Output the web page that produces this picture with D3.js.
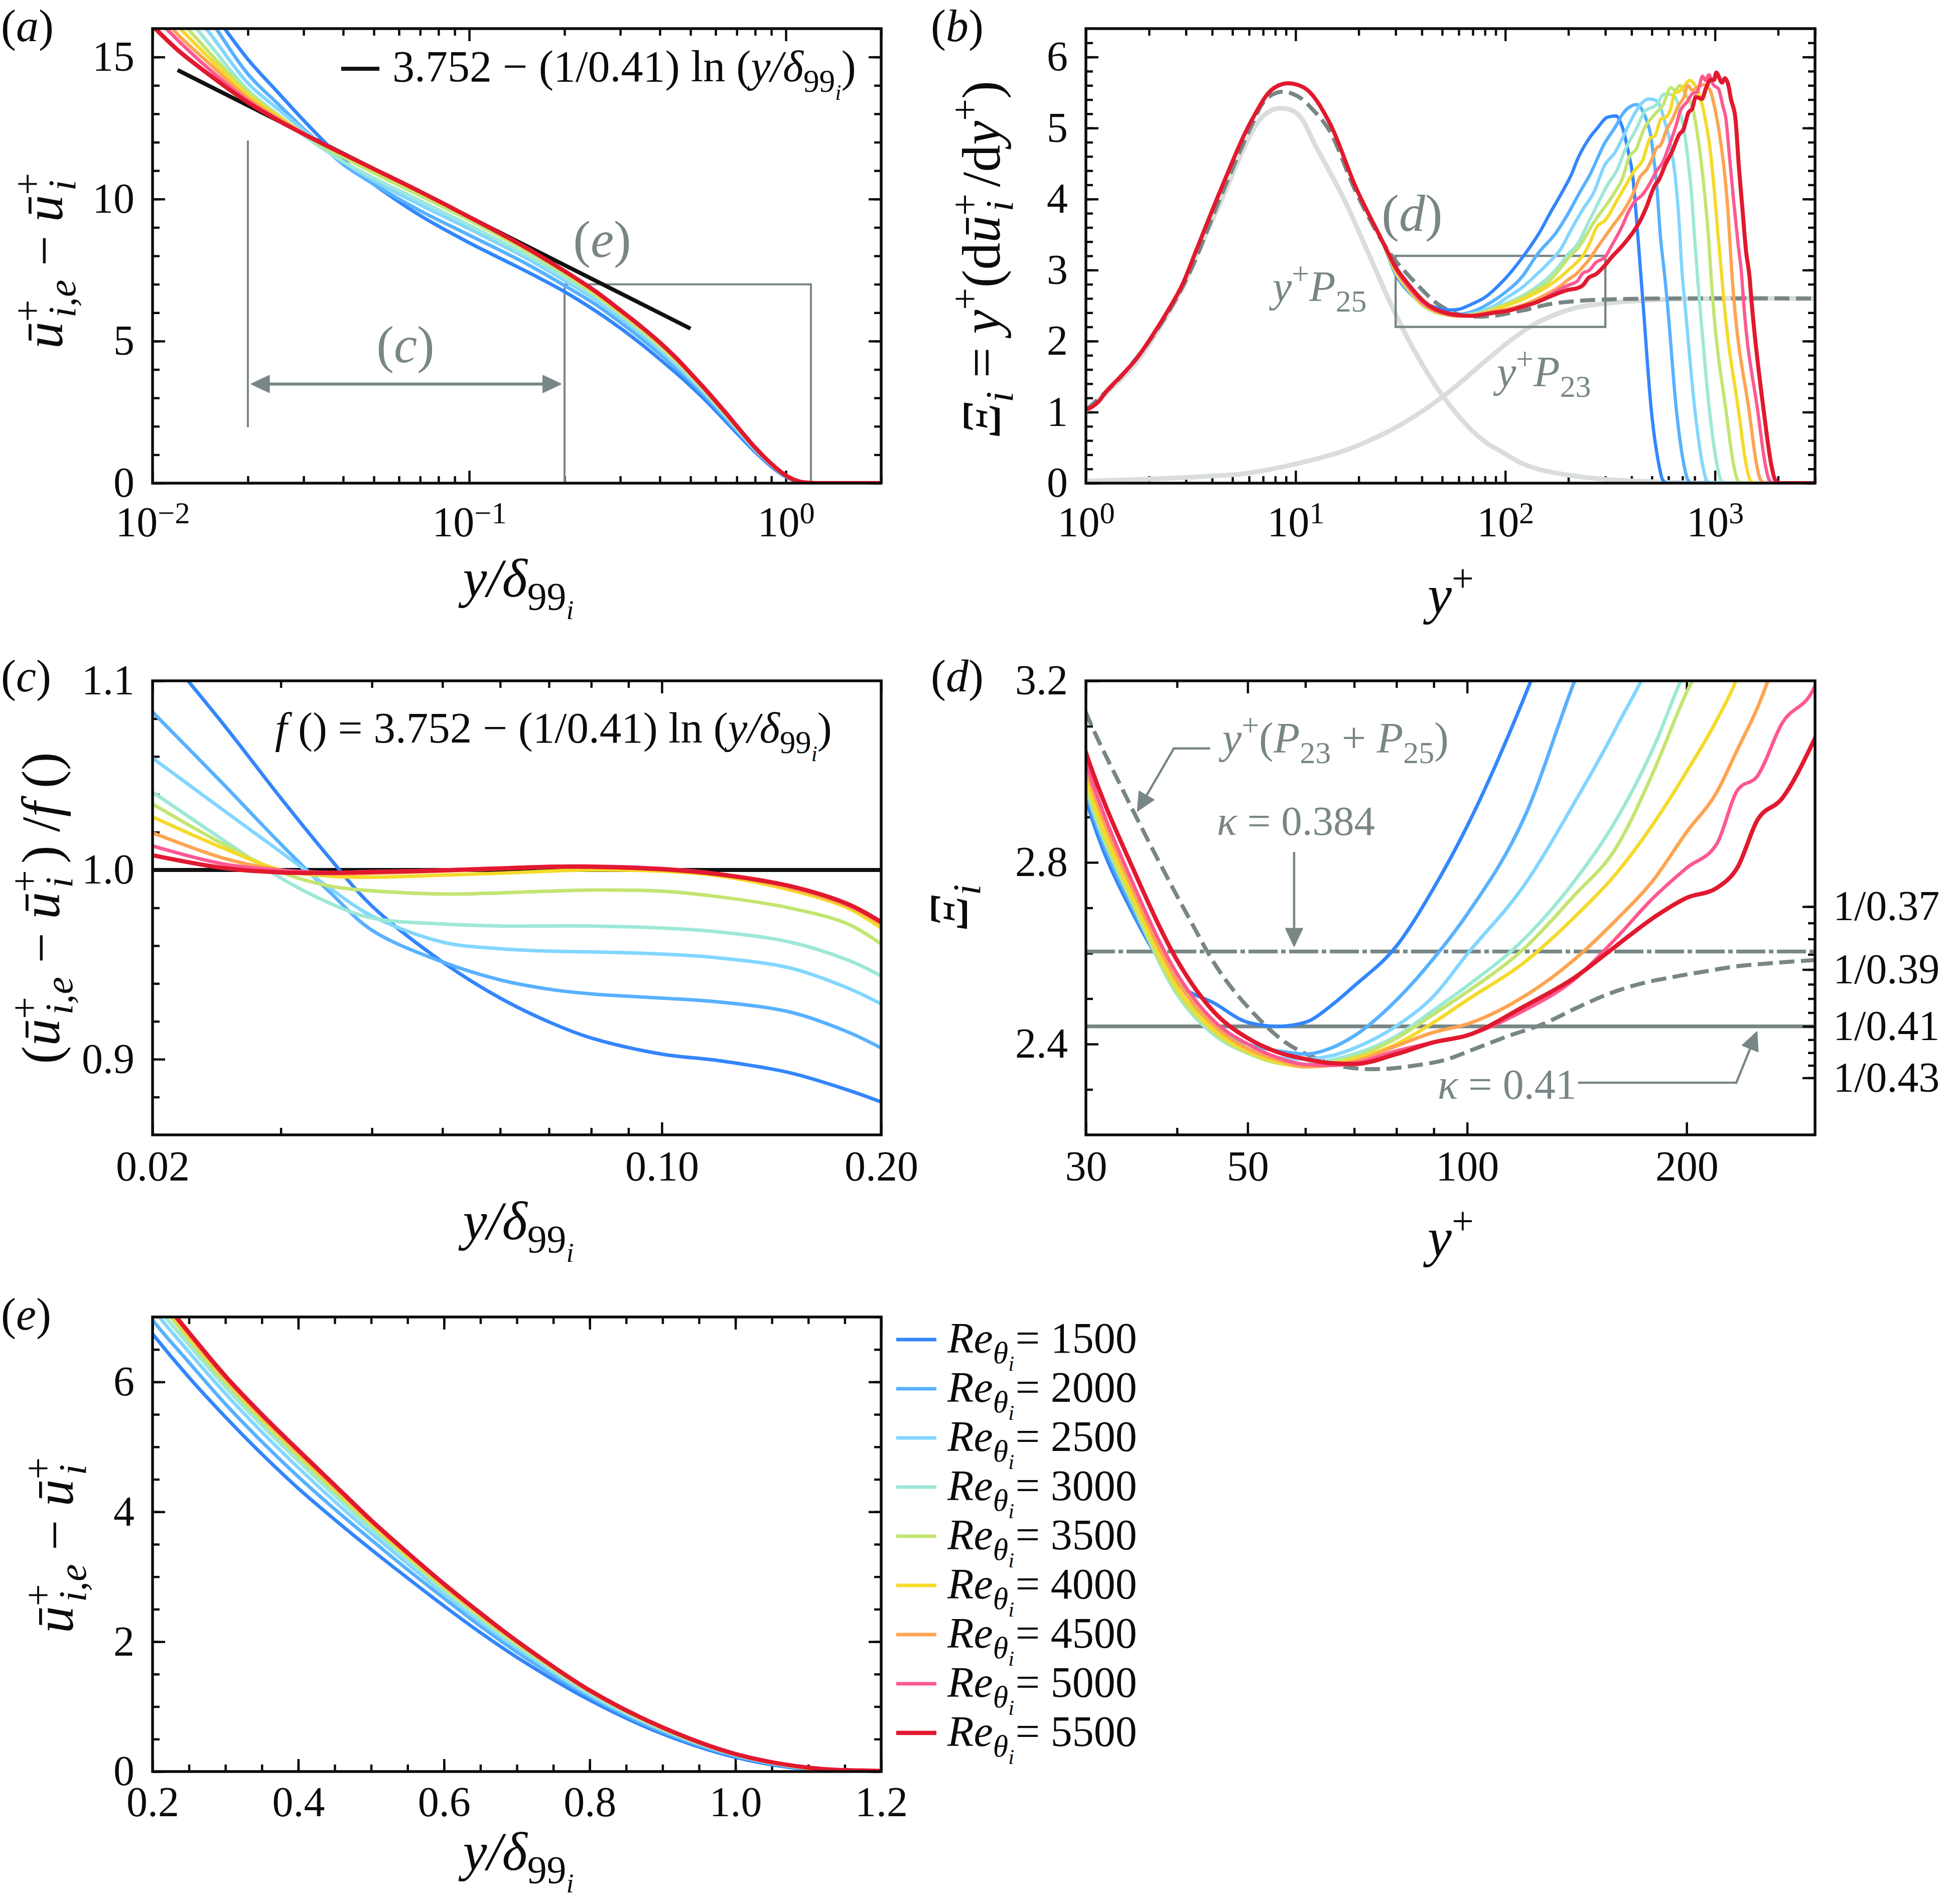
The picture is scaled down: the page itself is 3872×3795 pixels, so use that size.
<!DOCTYPE html>
<html>
<head>
<meta charset="utf-8">
<script src="https://cdn.jsdelivr.net/npm/d3@7"></script>
<style>
body { margin: 0; background: #fff; }
svg { display: block; background: #fff; }
text { font-family: "Liberation Serif", serif; }
</style>
</head>
<body>
<div id="fig"></div>
<script>
const reTheta = [1500, 2000, 2500, 3000, 3500, 4000, 4500, 5000, 5500]
const reColors = ["#3386fc", "#58b1ff", "#82d6ff", "#9de8d6", "#c3e571", "#f5da2a", "#fea451", "#fe5891", "#e1192f"]
const gray = "#788685", lightGray = "#d9dddb"

// (a) and (e): velocity deficit
const deficitX = [.01, .012, .015, .02, .025, .03, .035, .04, .05, .07, .1, .15, .2, .25, .3, .35, .4, .45, .5, .55, .6, .65, .7, .8, .9, 1, 1.1, 1.2, 1.5, 2]
const deficit1500 = [19.5, 18.3, 16.8, 14.92, 13.73, 12.77, 12.0, 11.38, 10.52, 9.42, 8.46, 7.48, 6.74, 6.07, 5.46, 4.89, 4.36, 3.88, 3.42, 2.98, 2.55, 2.14, 1.76, 1.10, .58, .22, .03, 0, 0, 0]
const deficit2000 = [19, 17.8, 16.4, 14.40, 13.33, 12.47, 11.79, 11.22, 10.52, 9.59, 8.73, 7.75, 6.955, 6.30, 5.66, 5.08, 4.54, 4.04, 3.57, 3.11, 2.67, 2.24, 1.84, 1.15, .61, .24, .04, 0, 0, 0]
const deficit2500 = [18.3, 17.2, 15.9, 14.08, 13.15, 12.42, 11.81, 11.32, 10.64, 9.80, 8.95, 7.95, 7.134, 6.46, 5.82, 5.23, 4.68, 4.16, 3.67, 3.20, 2.74, 2.31, 1.90, 1.18, .64, .25, .05, 0, 0, 0]
const deficit3000 = [17.8, 16.8, 15.5, 13.84, 12.95, 12.25, 11.73, 11.31, 10.74, 9.94, 9.08, 8.06, 7.247, 6.57, 5.92, 5.33, 4.78, 4.25, 3.74, 3.26, 2.79, 2.35, 1.94, 1.21, .65, .26, .05, .005, 0, 0]
const deficit3500 = [17.4, 16.4, 15.2, 13.757, 12.92, 12.29, 11.83, 11.48, 10.92, 10.12, 9.26, 8.21, 7.377, 6.65, 5.99, 5.40, 4.85, 4.32, 3.80, 3.31, 2.83, 2.39, 1.97, 1.23, .66, .26, .05, .005, 0, 0]
const deficit4000 = [17.1, 16.1, 15.0, 13.667, 12.90, 12.31, 11.89, 11.56, 11.03, 10.23, 9.36, 8.29, 7.441, 6.70, 6.04, 5.45, 4.90, 4.36, 3.83, 3.33, 2.86, 2.41, 1.99, 1.24, .67, .27, .05, .01, 0, 0]
const deficit4500 = [16.8, 15.8, 14.8, 13.555, 12.83, 12.31, 11.90, 11.58, 11.05, 10.25, 9.37, 8.30, 7.458, 6.73, 6.06, 5.47, 4.92, 4.38, 3.85, 3.35, 2.87, 2.42, 2.00, 1.24, .67, .27, .06, .01, 0, 0]
const deficit5000 = [16.5, 15.6, 14.6, 13.46, 12.79, 12.30, 11.91, 11.59, 11.06, 10.26, 9.38, 8.31, 7.466, 6.75, 6.08, 5.49, 4.94, 4.40, 3.86, 3.36, 2.88, 2.43, 2.01, 1.25, .68, .27, .06, .01, 0, 0]
const deficit5500 = [16.1, 15.25, 14.4, 13.40, 12.76, 12.29, 11.91, 11.59, 11.06, 10.26, 9.37, 8.31, 7.466, 6.76, 6.09, 5.50, 4.95, 4.41, 3.87, 3.37, 2.89, 2.44, 2.01, 1.25, .68, .27, .06, .01, 0, 0]
const deficits = [deficit1500, deficit2000, deficit2500, deficit3000, deficit3500, deficit4000, deficit4500, deficit5000, deficit5500]
const logLawX = [.012, .5]
const logLawY = [14.54, 5.44]

// (c): deficit over the log law
const ratioX = [.02, .025, .03, .035, .04, .05, .06, .07, .08, .1, .12, .15, .18, .2]
const ratio1500 = [1.1226, 1.0772, 1.038, 1.0063, .981, .9514, .9323, .9197, .9112, .9027, .8992, .8928, .8837, .8774]
const ratio2000 = [1.0835, 1.0455, 1.0137, .9884, .9682, .9514, .9419, .937, .9345, .9323, .9302, .9249, .9144, .9059]
const ratio2500 = [1.0592, 1.0317, 1.0095, .9905, .9757, .9619, .9584, .9571, .9567, .9556, .9535, .9482, .9376, .9292]
const ratio3000 = [1.0412, 1.0159, .9958, .9825, .9746, .9715, .9704, .9704, .9704, .9693, .9672, .9619, .9524, .944]
const ratio3500 = [1.0349, 1.0137, .9989, .9915, .989, .9873, .9879, .9888, .9894, .9888, .9858, .9799, .9715, .9609]
const ratio4000 = [1.0281, 1.0116, 1.0, .9968, .9962, .9973, .9983, .9994, 1.0, .9994, .9968, .9894, .9799, .9693]
const ratio4500 = [1.0197, 1.0063, 1.0, .9979, .9983, .9994, 1.0006, 1.0015, 1.0015, 1.0004, .9977, .9905, .981, .9715]
const ratio5000 = [1.0127, 1.0032, .9998, .9987, .9992, 1.0, 1.0011, 1.0019, 1.0021, 1.0008, .9979, .9915, .982, .9725]
const ratio5500 = [1.0078, 1.0011, .9987, .9985, .9989, .9998, 1.0008, 1.0017, 1.0017, 1.0004, .9977, .9915, .982, .9725]
const ratios = [ratio1500, ratio2000, ratio2500, ratio3000, ratio3500, ratio4000, ratio4500, ratio5000, ratio5500]

// (b) and (d): indicator function, inner part is the same for all
const xiInnerX = [1, 1.15, 1.25, 1.44, 1.75, 2.14, 2.45, 2.91, 3.35, 4.35, 6.2, 7.7, 9.2, 10.95, 14.6, 19.4, 25.7]
const xiInnerY = [1.03, 1.15, 1.29, 1.48, 1.76, 2.14, 2.42, 2.82, 3.27, 4.10, 5.12, 5.54, 5.63, 5.57, 5.06, 4.16, 3.43]
const xiMidX = [30, 35, 40, 45, 50, 55, 60, 65, 70, 80, 90, 100, 120, 140, 160, 180, 200, 220, 235, 250, 270, 300]
const xiMid1500 = [2.94, 2.68, 2.535, 2.49, 2.448, 2.439, 2.448, 2.484, 2.528, 2.616, 2.744, 2.88, 3.167]
const xiMid2000 = [2.955, 2.69, 2.52, 2.44, 2.40, 2.385, 2.378, 2.391, 2.418, 2.497, 2.589, 2.686, 2.902]
const xiMid2500 = [2.97, 2.70, 2.51, 2.425, 2.39, 2.37, 2.367, 2.374, 2.391, 2.44, 2.506, 2.598, 2.752, 2.929, 3.096]
const xiMid3000 = [2.965, 2.70, 2.51, 2.42, 2.38, 2.36, 2.355, 2.365, 2.378, 2.418, 2.475, 2.528, 2.633, 2.757, 2.893, 3.052, 3.23]
const xiMid3500 = [2.97, 2.70, 2.515, 2.425, 2.38, 2.358, 2.352, 2.36, 2.372, 2.413, 2.466, 2.515, 2.612, 2.726, 2.832, 2.999, 3.175]
const xiMid4000 = [2.985, 2.715, 2.525, 2.43, 2.385, 2.36, 2.35, 2.355, 2.367, 2.40, 2.448, 2.497, 2.581, 2.678, 2.775, 2.885, 3.0, 3.114, 3.21, 3.35]
const xiMid4500 = [3.005, 2.73, 2.54, 2.44, 2.39, 2.365, 2.35, 2.353, 2.362, 2.396, 2.426, 2.444, 2.506, 2.585, 2.673, 2.761, 2.867, 2.955, 3.05, 3.14]
const xiMid5000 = [3.02, 2.745, 2.555, 2.45, 2.40, 2.37, 2.355, 2.353, 2.358, 2.385, 2.404, 2.419, 2.475, 2.541, 2.633, 2.722, 2.788, 2.841, 2.96, 2.99, 3.105, 3.189]
const xiMid5500 = [3.042, 2.778, 2.585, 2.47, 2.413, 2.382, 2.367, 2.358, 2.356, 2.378, 2.404, 2.419, 2.484, 2.545, 2.616, 2.678, 2.722, 2.744, 2.79, 2.893, 2.94, 3.074]
const xiMids = [xiMid1500, xiMid2000, xiMid2500, xiMid3000, xiMid3500, xiMid4000, xiMid4500, xiMid5000, xiMid5500]

const xiTailX1500 = [134, 148, 162, 186, 209, 218, 252, 275, 306, 337, 354, 368, 383, 406, 422, 443, 452, 498, 541, 562, 590, 3000]
const xiTailY1500 = [3.365, 3.565, 3.78, 4.09, 4.38, 4.52, 4.86, 5.0, 5.15, 5.17, 5.08, 4.94, 4.71, 4.30, 3.74, 2.93, 2.6, 1, .25, .05, 0, 0]
const xiTailX2000 = [142, 176, 198, 226, 254, 297, 334, 365, 406, 422, 456, 473, 492, 512, 527, 548, 575, 590, 656, 712, 741, 775, 3000]
const xiTailY2000 = [3.22, 3.54, 3.78, 4.09, 4.35, 4.78, 5.01, 5.21, 5.32, 5.33, 5.22, 5.1, 4.92, 4.54, 4.21, 3.51, 2.93, 2.6, 1, .25, .05, 0, 0]
const xiTailX2500 = [186, 201, 235, 264, 297, 334, 361, 398, 447, 483, 522, 553, 575, 604, 628, 647, 672, 698, 715, 804, 873, 908, 950, 3000]
const xiTailY2500 = [3.32, 3.51, 3.86, 4.09, 4.47, 4.66, 4.85, 5.11, 5.35, 5.41, 5.39, 5.27, 5.1, 4.87, 4.59, 4.3, 3.74, 2.93, 2.6, 1, .25, .05, 0, 0]
const xiTailX3000 = [218, 254, 309, 340, 375, 422, 464, 522, 575, 622, 653, 685, 712, 741, 771, 800, 824, 842, 943, 1024, 1065, 1115, 3000]
const xiTailY3000 = [3.34, 3.72, 4.21, 4.4, 4.71, 4.99, 5.24, 5.32, 5.48, 5.47, 5.41, 5.2, 4.97, 4.59, 4.1, 3.44, 2.93, 2.6, 1, .25, .05, 0, 0]
const xiTailX3500 = [222, 264, 340, 361, 390, 422, 456, 522, 564, 616, 646, 679, 727, 785, 824, 865, 899, 935, 957, 975, 1131, 1228, 1278, 1340, 3000]
const xiTailY3500 = [3.31, 3.67, 4.14, 4.28, 4.59, 4.71, 4.97, 5.21, 5.32, 5.57, 5.53, 5.6, 5.46, 5.27, 4.92, 4.45, 3.98, 3.39, 2.93, 2.6, 1, .25, .05, 0, 0]
const xiTailX4000 = [275, 297, 347, 375, 413, 451, 492, 517, 553, 581, 616, 640, 679, 720, 755, 800, 849, 891, 945, 991, 1030, 1076, 1100, 1298, 1410, 1467, 1540, 3000]
const xiTailY4000 = [3.62, 3.69, 4.02, 4.19, 4.4, 4.54, 4.86, 4.89, 5.13, 5.15, 5.28, 5.49, 5.52, 5.61, 5.67, 5.61, 5.44, 5.18, 4.73, 4.14, 3.55, 2.93, 2.6, 1, .25, .05, 0, 0]
const xiTailX4500 = [275, 321, 375, 406, 439, 473, 502, 527, 548, 587, 628, 665, 712, 741, 778, 824, 883, 945, 991, 1050, 1114, 1159, 1205, 1230, 1457, 1582, 1646, 1730, 3000]
const xiTailY4500 = [3.32, 3.6, 3.88, 4.07, 4.31, 4.42, 4.57, 4.72, 4.75, 4.97, 5.13, 5.3, 5.44, 5.6, 5.53, 5.57, 5.61, 5.54, 5.32, 4.92, 4.33, 3.74, 2.93, 2.6, 1, .25, .05, 0, 0]
const xiTailX5000 = [321, 361, 390, 418, 447, 502, 522, 564, 609, 659, 679, 741, 778, 824, 873, 899, 935, 982, 1040, 1092, 1125, 1169, 1227, 1288, 1340, 1365, 1602, 1740, 1810, 1900, 3000]
const xiTailY5000 = [3.34, 3.62, 3.84, 3.98, 4.05, 4.28, 4.38, 4.52, 4.78, 5.08, 5.22, 5.38, 5.48, 5.51, 5.73, 5.67, 5.75, 5.61, 5.55, 5.3, 5.15, 4.64, 3.98, 3.37, 2.93, 2.6, 1, .25, .05, 0, 0]
const xiTailX5500 = [321, 361, 406, 439, 473, 512, 542, 581, 622, 679, 705, 748, 778, 810, 865, 908, 953, 991, 1014, 1081, 1114, 1159, 1191, 1250, 1300, 1352, 1406, 1462, 1490, 1711, 1858, 1933, 2030, 3000]
const xiTailY5500 = [3.18, 3.34, 3.53, 3.69, 3.9, 4.17, 4.28, 4.49, 4.66, 4.92, 4.97, 5.22, 5.27, 5.44, 5.41, 5.57, 5.68, 5.68, 5.78, 5.64, 5.7, 5.6, 5.41, 5.15, 4.45, 3.86, 3.27, 2.9, 2.6, 1, .25, .05, 0, 0]
const xiTailXs = [xiTailX1500, xiTailX2000, xiTailX2500, xiTailX3000, xiTailX3500, xiTailX4000, xiTailX4500, xiTailX5000, xiTailX5500]
const xiTailYs = [xiTailY1500, xiTailY2000, xiTailY2500, xiTailY3000, xiTailY3500, xiTailY4000, xiTailY4500, xiTailY5000, xiTailY5500]

const p25X = [1, 1.44, 1.75, 2.14, 2.91, 3.35, 4.35, 6.2, 7.2, 8.5, 10.2, 12.6, 17, 22, 30, 38.6, 50.5, 67.8, 82, 92.4, 122, 163, 290, 508, 900, 3000]
const p25Y = [1.02, 1.44, 1.71, 2.09, 2.77, 3.2, 3.93, 4.95, 5.2, 5.28, 5.2, 4.72, 4.0, 3.27, 2.375, 1.76, 1.22, .77, .56, .47, .27, .16, .056, .02, 0, 0]
const p23X = [1, 2, 3, 4, 5.9, 10, 16.6, 22, 31.6, 50.5, 82, 107, 142, 217, 300, 508, 1000, 3000]
const p23Y = [.03, .057, .08, .1, .14, .27, .445, .587, .82, 1.22, 1.74, 2.02, 2.26, 2.47, 2.53, 2.58, 2.6, 2.6]
const pSumX = [1, 1.44, 2.14, 3.05, 4.35, 6.2, 7.2, 8.5, 10.2, 12.6, 14.6, 19.4, 25.7, 30, 33.6, 37.7, 41.4, 45.8, 50.8, 56.3, 62, 68.3, 76.3, 84.1, 93.2, 103, 114, 127, 141, 156, 172, 192, 212, 234, 300, 400, 600, 3000]
const pSumY = [1.03, 1.47, 2.12, 2.9, 4.0, 5.05, 5.4, 5.51, 5.45, 5.2, 4.95, 4.1, 3.42, 3.13, 2.964, 2.805, 2.682, 2.559, 2.47, 2.404, 2.369, 2.349, 2.345, 2.352, 2.365, 2.391, 2.418, 2.444, 2.479, 2.51, 2.532, 2.548, 2.56, 2.571, 2.585, 2.595, 2.6, 2.6]
const kappaLines = [2.604, 2.439]

const rightTicks = [.37, .375, .38, .385, .39, .395, .40, .405, .41, .415, .42, .425, .43]
const rightLabels = [.37, .39, .41, .43]

const svg = d3.select("#fig").append("svg").attr("width", 3872).attr("height", 3795)
const serif = "'Liberation Serif', serif"
const inkBlack = "#0b0b0b"
const majorLen = 25, minorLen = 14
const tickFont = 84, axisFont = 108, noteFont = 86

// tspans with sup/sub levels: [text, italic, level, dx]
const shift = {"0": 0, "1": -.40, "-1": .24, "-2": .42}
const scaleOf = {"0": 1, "1": .72, "-1": .72, "-2": .5}
function mathText(g, x, y, size, parts, anchor = "start", color = inkBlack, rotate = false) {
    const t = g.append("text")
        .attr("transform", rotate ? `translate(${x},${y}) rotate(-90)` : `translate(${x},${y})`)
        .attr("text-anchor", anchor)
        .attr("font-size", size)
        .attr("fill", color)
    let prev = 0
    parts.forEach(p => {
        const level = p[2] || 0
        t.append("tspan")
            .attr("font-style", p[1] ? "italic" : "normal")
            .attr("font-size", size * scaleOf[level])
            .attr("dy", (shift[level] - shift[prev]) * size)
            .attr("dx", p[3] ? p[3] * size : 0)
            .text(p[0])
        prev = level
    })
    return t
}

function axisGroup(g, axis, transform) {
    const a = g.append("g").attr("transform", transform).call(axis)
    a.select(".domain").remove()
    a.selectAll("line").attr("stroke", inkBlack).attr("stroke-width", 4.5)
    a.selectAll("text").attr("font-family", serif).attr("font-size", tickFont).attr("fill", inkBlack)
    return a
}

function panel(cfg) {
    const g = svg.append("g")
    const x = cfg.xScale.range([cfg.left, cfg.right])
    const y = d3.scaleLinear().domain(cfg.yDomain).range([cfg.bottom, cfg.top])
    const w = cfg.right - cfg.left, h = cfg.bottom - cfg.top

    const noLabel = () => ""
    const xAxisG = g.append("g"), yAxisG = g.append("g")
    // minor ticks
    axisGroup(xAxisG, d3.axisBottom(x).tickValues(cfg.xMinor).tickSize(-minorLen).tickFormat(noLabel), `translate(0,${cfg.bottom})`)
    axisGroup(xAxisG, d3.axisTop(x).tickValues(cfg.xMinor).tickSize(-minorLen).tickFormat(noLabel), `translate(0,${cfg.top})`)
    axisGroup(yAxisG, d3.axisLeft(y).tickValues(cfg.yMinor).tickSize(-minorLen).tickFormat(noLabel), `translate(${cfg.left},0)`)
    // major ticks
    const xMajor = axisGroup(xAxisG, d3.axisBottom(x).tickValues(cfg.xMajor).tickSize(-majorLen).tickPadding(cfg.xPad).tickFormat(cfg.xFormat), `translate(0,${cfg.bottom})`)
    axisGroup(xAxisG, d3.axisTop(x).tickValues(cfg.xMajor).tickSize(-majorLen).tickFormat(noLabel), `translate(0,${cfg.top})`)
    axisGroup(yAxisG, d3.axisLeft(y).tickValues(cfg.yMajor).tickSize(-majorLen).tickPadding(cfg.yPad).tickFormat(cfg.yFormat), `translate(${cfg.left},0)`)
    if (cfg.mirrorY) {
        axisGroup(yAxisG, d3.axisRight(y).tickValues(cfg.yMinor).tickSize(-minorLen).tickFormat(noLabel), `translate(${cfg.right},0)`)
        axisGroup(yAxisG, d3.axisRight(y).tickValues(cfg.yMajor).tickSize(-majorLen).tickFormat(noLabel), `translate(${cfg.right},0)`)
    }
    if (cfg.powers) {
        xMajor.selectAll("text").each(function(d) {
            const t = d3.select(this)
            t.append("tspan").text("10")
            t.append("tspan").attr("font-size", tickFont * .72).attr("dy", "-.42em")
                .text(String(Math.round(Math.log10(d))).replace("-", "\u2212"))
        })
    }

    const clipId = "clip-" + cfg.name
    g.append("clipPath").attr("id", clipId).append("rect")
        .attr("x", cfg.left).attr("y", cfg.top).attr("width", w).attr("height", h)
    const plot = g.append("g").attr("clip-path", `url(#${clipId})`)
    const over = g.append("g")

    const draw = (parent, xs, ys, color, width, dash, curve) => parent.append("path")
        .attr("d", d3.line().x(d => x(d[0])).y(d => y(d[1])).curve(curve || d3.curveCatmullRom.alpha(.5))(xs.map((v, i) => [v, ys[i]])))
        .attr("fill", "none")
        .attr("stroke", color)
        .attr("stroke-width", width)
        .attr("stroke-dasharray", dash || null)

    return {g, plot, over, x, y, draw, finish() {
        g.append("rect").attr("x", cfg.left).attr("y", cfg.top).attr("width", w).attr("height", h)
            .attr("fill", "none").attr("stroke", inkBlack).attr("stroke-width", 5.5)
        g.node().appendChild(over.node())
    }}
}

// straight leader ending in a solid arrow head
function arrow(parent, points, headLen = 36, headWide = 34, shaft = 4.5) {
    const n = points.length
    const tip = points[n - 1], from = points[n - 2]
    const len = Math.hypot(tip[0] - from[0], tip[1] - from[1])
    const ux = (tip[0] - from[0]) / len, uy = (tip[1] - from[1]) / len
    const bx = tip[0] - ux * headLen, by = tip[1] - uy * headLen
    const path = points.slice(0, n - 1).concat([[bx, by]])
    parent.append("path").attr("d", d3.line()(path)).attr("fill", "none").attr("stroke", gray).attr("stroke-width", shaft)
    parent.append("path")
        .attr("d", d3.line()([tip, [bx - uy * headWide / 2, by + ux * headWide / 2], [bx + uy * headWide / 2, by - ux * headWide / 2]]) + "Z")
        .attr("fill", gray).attr("stroke", gray).attr("stroke-width", 2).attr("stroke-linejoin", "round")
}

function panelLabel(x, y, letter) {
    mathText(svg, x, y, 90, [["(", false], [letter, true], [")", false]])
}

function grayLabel(x, y, letter) {
    mathText(svg, x, y, 104, [["(", false], [letter, true], [")", false]], "middle", gray)
}

const yOverDelta = [["y", true], ["/\u03b4", true], ["99", false, -1], ["i", true, -2]]
const yPlus = [["y", true], ["+", false, 1]]
const deficitLabel = [["\u016b", true], ["+", false, 1], ["i,e", true, -1, -.33], [" \u2212 ", false], ["\u016b", true], ["+", false, 1], ["i", true, -1, -.33]]

const widthOf = i => i === 8 ? 8.5 : 7
const seriesXi = i => {
    const n = xiMids[i].length
    return [xiInnerX.concat(xiMidX.slice(0, n), xiTailXs[i]), xiInnerY.concat(xiMids[i], xiTailYs[i])]
}
const decades = (lo, hi, steps) => d3.range(lo, hi).flatMap(e => steps.map(s => s * Math.pow(10, e)))

// ---------- (a)
const A = panel({
    name: "a", left: 304, right: 1756, top: 57, bottom: 963,
    xScale: d3.scaleLog().domain([.01, 2]), yDomain: [0, 16],
    xMajor: [.01, .1, 1], xMinor: decades(-2, 1, [2, 3, 4, 5, 6, 7, 8, 9]).filter(v => v <= 2),
    yMajor: [0, 5, 10, 15], yMinor: d3.range(0, 17), mirrorY: true,
    xPad: 46, yPad: 36, xFormat: () => "", yFormat: d3.format("d"), powers: true
})
const grayPath = d3.line()
A.plot.append("path").attr("d", grayPath([[A.x(.02), A.y(12.06)], [A.x(.02), A.y(1.97)]])).attr("fill", "none").attr("stroke", gray).attr("stroke-width", 4)
A.plot.append("path").attr("d", grayPath([[A.x(.2), A.y(0)], [A.x(.2), A.y(7)], [A.x(1.2), A.y(7)], [A.x(1.2), A.y(0)]])).attr("fill", "none").attr("stroke", gray).attr("stroke-width", 4)
arrow(A.plot, [[A.x(.065), A.y(3.49)], [A.x(.195), A.y(3.49)]], 36, 34, 6)
arrow(A.plot, [[A.x(.065), A.y(3.49)], [A.x(.0205), A.y(3.49)]], 36, 34, 6)
A.draw(A.plot, logLawX, logLawY, "#111", 8, null, d3.curveLinear)
deficits.forEach((d, i) => A.draw(A.plot, deficitX, d, reColors[i], widthOf(i)))
A.finish()
A.over.append("line").attr("x1", 680).attr("x2", 756).attr("y1", 137).attr("y2", 137).attr("stroke", "#111").attr("stroke-width", 8)
mathText(svg, 782, 162, 88, [["3.752 \u2212 (1/0.41) ln (", false], ["y", true], ["/\u03b4", true], ["99", false, -1], ["i", true, -2], [")", false]])
mathText(svg, 124, 520, axisFont, deficitLabel, "middle", inkBlack, true)
mathText(svg, 1033, 1189, axisFont, yOverDelta, "middle")
panelLabel(2, 82, "a")
grayLabel(808, 722, "c")
grayLabel(1200, 512, "e")

// ---------- (b)
const B = panel({
    name: "b", left: 2164, right: 3617, top: 57, bottom: 963,
    xScale: d3.scaleLog().domain([1, 3000]), yDomain: [0, 6.4],
    xMajor: [1, 10, 100, 1000], xMinor: decades(0, 4, [2, 3, 4, 5, 6, 7, 8, 9]).filter(v => v <= 3000),
    yMajor: [0, 1, 2, 3, 4, 5, 6], yMinor: d3.range(0, 32).map(v => v * .2), mirrorY: true,
    xPad: 46, yPad: 36, xFormat: () => "", yFormat: d3.format("d"), powers: true
})
B.draw(B.plot, p25X, p25Y, lightGray, 9.5)
B.draw(B.plot, p23X, p23Y, lightGray, 9.5)
B.draw(B.plot, pSumX, pSumY, gray, 8, "30 13")
B.plot.append("rect").attr("x", B.x(30)).attr("y", B.y(3.2)).attr("width", B.x(300) - B.x(30)).attr("height", B.y(2.2) - B.y(3.2))
    .attr("fill", "none").attr("stroke", gray).attr("stroke-width", 4.5)
reColors.forEach((c, i) => { const s = seriesXi(i); B.draw(B.plot, s[0], s[1], c, i === 8 ? 8 : 6.5, null, d3.curveMonotoneX) })
B.finish()
mathText(svg, 1992, 516, axisFont, [["\u039e", true], ["i", true, -1], [" = ", false], ["y", true], ["+", false, 1], ["(d", false], ["\u016b", true], ["+", false, 1], ["i", true, -1, -.33], [" /d", false], ["y", true], ["+", false, 1], [")", false]], "middle", inkBlack, true)
mathText(svg, 2891, 1222, axisFont, yPlus, "middle")
panelLabel(1855, 82, "b")
grayLabel(2814, 460, "d")
mathText(svg, 2536, 600, noteFont, [["y", true], ["+", false, 1], ["P", true], ["25", false, -1]], "start", gray)
mathText(svg, 2983, 770, noteFont, [["y", true], ["+", false, 1], ["P", true], ["23", false, -1]], "start", gray)

// ---------- (c)
const C = panel({
    name: "c", left: 304, right: 1756, top: 1357, bottom: 2262,
    xScale: d3.scaleLog().domain([.02, .2]), yDomain: [.86, 1.1],
    xMajor: [.02, .1, .2], xMinor: [.03, .04, .05, .06, .07, .08, .09],
    yMajor: [.9, 1.0, 1.1], yMinor: [.88, .92, .94, .96, .98, 1.02, 1.04, 1.06, 1.08], mirrorY: false,
    xPad: 31, yPad: 36, xFormat: d3.format(".2f"), yFormat: d3.format(".1f")
})
C.draw(C.plot, [.02, .2], [1, 1], "#111", 8, null, d3.curveLinear)
ratios.forEach((d, i) => C.draw(C.plot, ratioX, d, reColors[i], widthOf(i)))
C.finish()
mathText(svg, 548, 1480, 87, [["f", true], [" () = 3.752 \u2212 (1/0.41) ln (", false], ["y", true], ["/\u03b4", true], ["99", false, -1], ["i", true, -2], [")", false]])
mathText(svg, 118, 1810, axisFont, [["(", false], ["\u016b", true], ["+", false, 1], ["i,e", true, -1, -.33], [" \u2212 ", false], ["\u016b", true], ["+", false, 1], ["i", true, -1, -.33], [" ) /", false], ["f", true], [" ()", false]], "middle", inkBlack, true)
mathText(svg, 1033, 2470, axisFont, yOverDelta, "middle")
panelLabel(2, 1378, "c")

// ---------- (d)
const D = panel({
    name: "d", left: 2164, right: 3617, top: 1357, bottom: 2262,
    xScale: d3.scaleLog().domain([30, 300]), yDomain: [2.2, 3.2],
    xMajor: [30, 50, 100, 200], xMinor: [40, 60, 70, 80, 90],
    yMajor: [2.4, 2.8, 3.2], yMinor: [2.3, 2.5, 2.6, 2.7, 2.9, 3.0, 3.1], mirrorY: false,
    xPad: 31, yPad: 36, xFormat: d3.format("d"), yFormat: d3.format(".1f")
})
D.draw(D.plot, [30, 300], [kappaLines[0], kappaLines[0]], gray, 7.5, "58 7 9 7", d3.curveLinear)
D.draw(D.plot, [30, 300], [kappaLines[1], kappaLines[1]], gray, 7.5, null, d3.curveLinear)
D.draw(D.plot, pSumX, pSumY, gray, 8, "30 13")
reColors.forEach((c, i) => { const s = seriesXi(i); D.draw(D.plot, s[0], s[1], c, widthOf(i), null, d3.curveMonotoneX) })
// kappa axis on the right
const rightMinor = d3.axisRight(D.y).tickValues(rightTicks.map(v => 1 / v)).tickSize(-minorLen).tickFormat(() => "")
axisGroup(D.g, rightMinor, `translate(3617,0)`)
const rightMajor = d3.axisRight(D.y).tickValues(rightLabels.map(v => 1 / v)).tickSize(-majorLen).tickPadding(36).tickFormat(d => "1/" + d3.format(".2f")(1 / d))
axisGroup(D.g, rightMajor, `translate(3617,0)`)
D.finish()
arrow(D.over, [[D.x(44.4), D.y(3.051)], [D.x(39.6), D.y(3.051)], [D.x(35.3), D.y(2.913)]])
arrow(D.over, [[D.x(57.9), D.y(2.823)], [D.x(57.9), D.y(2.615)]])
arrow(D.over, [[D.x(142), D.y(2.315)], [D.x(234), D.y(2.315)], [D.x(249.7), D.y(2.427)]])
mathText(svg, 2436, 1500, noteFont, [["y", true], ["+", false, 1], ["(", false], ["P", true], ["23", false, -1], [" + ", false], ["P", true], ["25", false, -1], [")", false]], "start", gray)
mathText(svg, 2425, 1664, 83, [["\u03ba", true], [" = 0.384", false]], "start", gray)
mathText(svg, 2865, 2190, 84, [["\u03ba", true], [" = 0.41", false]], "start", gray)
mathText(svg, 1927, 1808, axisFont, [["\u039e", true], ["i", true, -1]], "middle", inkBlack, true)
mathText(svg, 2891, 2503, axisFont, yPlus, "middle")
panelLabel(1855, 1378, "d")

// ---------- (e)
const E = panel({
    name: "e", left: 304, right: 1756, top: 2625, bottom: 3531,
    xScale: d3.scaleLinear().domain([.2, 1.2]), yDomain: [0, 7],
    xMajor: [.2, .4, .6, .8, 1.0, 1.2], xMinor: d3.range(4, 25).map(v => v * .05),
    yMajor: [0, 2, 4, 6], yMinor: d3.range(0, 15).map(v => v * .5), mirrorY: true,
    xPad: 29, yPad: 36, xFormat: d3.format(".1f"), yFormat: d3.format("d")
})
deficits.forEach((d, i) => E.draw(E.plot, deficitX, d, reColors[i], widthOf(i)))
E.finish()
mathText(svg, 145, 3080, axisFont, deficitLabel, "middle", inkBlack, true)
mathText(svg, 1033, 3727, axisFont, yOverDelta, "middle")
panelLabel(2, 2650, "e")

// legend
const legendY = d3.scaleLinear().domain([0, 8]).range([2670, 3454])
reTheta.forEach((re, i) => {
    svg.append("line").attr("x1", 1786).attr("x2", 1866).attr("y1", legendY(i)).attr("y2", legendY(i))
        .attr("stroke", reColors[i]).attr("stroke-width", widthOf(i))
    mathText(svg, 1888, legendY(i) + 26, 86, [["Re", true], ["\u03b8", true, -1], ["i", true, -2], ["= " + re, false, 0, .03]])
})
</script>
</body>
</html>
